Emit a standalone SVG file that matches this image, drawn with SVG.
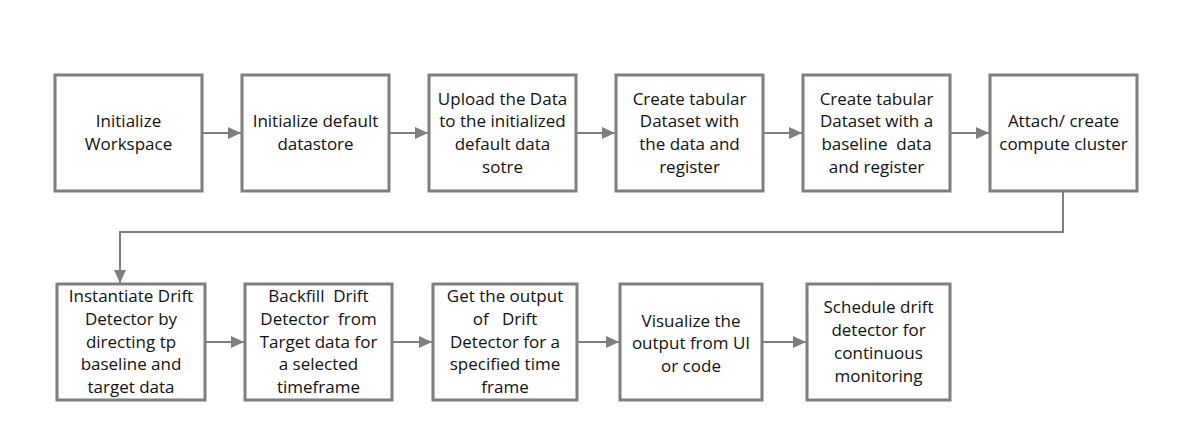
<svg xmlns="http://www.w3.org/2000/svg" width="1181" height="448" viewBox="0 0 1181 448">
<style>
.box{fill:#fff;stroke:#7f7f7f;stroke-width:3}
.t{font-family:"Open Sans","Liberation Sans",sans-serif;font-size:17px;fill:#111;text-anchor:middle}
.c{fill:none;stroke:#7f7f7f;stroke-width:2}
</style>
<defs>
<marker id="ah" viewBox="0 0 13 12" refX="13" refY="6" markerWidth="13" markerHeight="12" markerUnits="userSpaceOnUse" orient="auto">
<path d="M0,0 L13,6 L0,12 Z" fill="#7f7f7f"/>
</marker>
</defs>
<rect width="1181" height="448" fill="#fff"/>
<g id="connectors">
<line class="c" x1="202" y1="133" x2="241" y2="133" marker-end="url(#ah)"/>
<line class="c" x1="389" y1="133" x2="428" y2="133" marker-end="url(#ah)"/>
<line class="c" x1="576" y1="133" x2="615" y2="133" marker-end="url(#ah)"/>
<line class="c" x1="763" y1="133" x2="802" y2="133" marker-end="url(#ah)"/>
<line class="c" x1="950" y1="133" x2="989" y2="133" marker-end="url(#ah)"/>
<polyline class="c" points="1063,191 1063,232 120,232 120,283" marker-end="url(#ah)"/>
<line class="c" x1="205" y1="342" x2="244" y2="342" marker-end="url(#ah)"/>
<line class="c" x1="392" y1="342" x2="432" y2="342" marker-end="url(#ah)"/>
<line class="c" x1="577" y1="342" x2="619" y2="342" marker-end="url(#ah)"/>
<line class="c" x1="762" y1="342" x2="806" y2="342" marker-end="url(#ah)"/>
</g>
<g id="n1"><rect class="box" x="55" y="75" width="147" height="116"/>
<text class="t" x="128.5" y="127">Initialize</text><text class="t" x="128.5" y="150">Workspace</text></g>
<g id="n2"><rect class="box" x="242" y="75" width="147" height="116"/>
<text class="t" x="315.5" y="127">Initialize default</text><text class="t" x="315.5" y="150">datastore</text></g>
<g id="n3"><rect class="box" x="429" y="75" width="147" height="116"/>
<text class="t" x="502.5" y="104.5">Upload the Data</text><text class="t" x="502.5" y="127.3">to the initialized</text><text class="t" x="502.5" y="150.1">default data</text><text class="t" x="502.5" y="172.9">sotre</text></g>
<g id="n4"><rect class="box" x="616" y="75" width="147" height="116"/>
<text class="t" x="689.5" y="104.5">Create tabular</text><text class="t" x="689.5" y="127.3">Dataset with</text><text class="t" x="689.5" y="150.1">the data and</text><text class="t" x="689.5" y="172.9">register</text></g>
<g id="n5"><rect class="box" x="803" y="75" width="147" height="116"/>
<text class="t" x="876.5" y="104.5">Create tabular</text><text class="t" x="876.5" y="127.3">Dataset with a</text><text class="t" x="876.5" y="150.1" xml:space="preserve">baseline  data</text><text class="t" x="876.5" y="172.9">and register</text></g>
<g id="n6"><rect class="box" x="990" y="75" width="147" height="116"/>
<text class="t" x="1063.5" y="127">Attach/ create</text><text class="t" x="1063.5" y="150">compute cluster</text></g>
<g id="n7"><rect class="box" x="57" y="284" width="148" height="116"/>
<text class="t" x="131" y="302">Instantiate Drift</text><text class="t" x="131" y="324.8">Detector by</text><text class="t" x="131" y="347.6">directing tp</text><text class="t" x="131" y="370.4">baseline and</text><text class="t" x="131" y="393.2">target data</text></g>
<g id="n8"><rect class="box" x="245" y="284" width="147" height="116"/>
<text class="t" x="318.5" y="302" xml:space="preserve">Backfill  Drift</text><text class="t" x="318.5" y="324.8" xml:space="preserve">Detector  from</text><text class="t" x="318.5" y="347.6">Target data for</text><text class="t" x="318.5" y="370.4">a selected</text><text class="t" x="318.5" y="393.2">timeframe</text></g>
<g id="n9"><rect class="box" x="433" y="284" width="144" height="116"/>
<text class="t" x="505" y="302">Get the output</text><text class="t" x="505" y="324.8" xml:space="preserve">of   Drift</text><text class="t" x="505" y="347.6">Detector for a</text><text class="t" x="505" y="370.4">specified time</text><text class="t" x="505" y="393.2">frame</text></g>
<g id="n10"><rect class="box" x="620" y="284" width="142" height="116"/>
<text class="t" x="691" y="326.5">Visualize the</text><text class="t" x="691" y="349.3">output from UI</text><text class="t" x="691" y="372.1">or code</text></g>
<g id="n11"><rect class="box" x="807" y="284" width="143" height="116"/>
<text class="t" x="878.5" y="313.3">Schedule drift</text><text class="t" x="878.5" y="336.1">detector for</text><text class="t" x="878.5" y="358.9">continuous</text><text class="t" x="878.5" y="381.7">monitoring</text></g>
</svg>
